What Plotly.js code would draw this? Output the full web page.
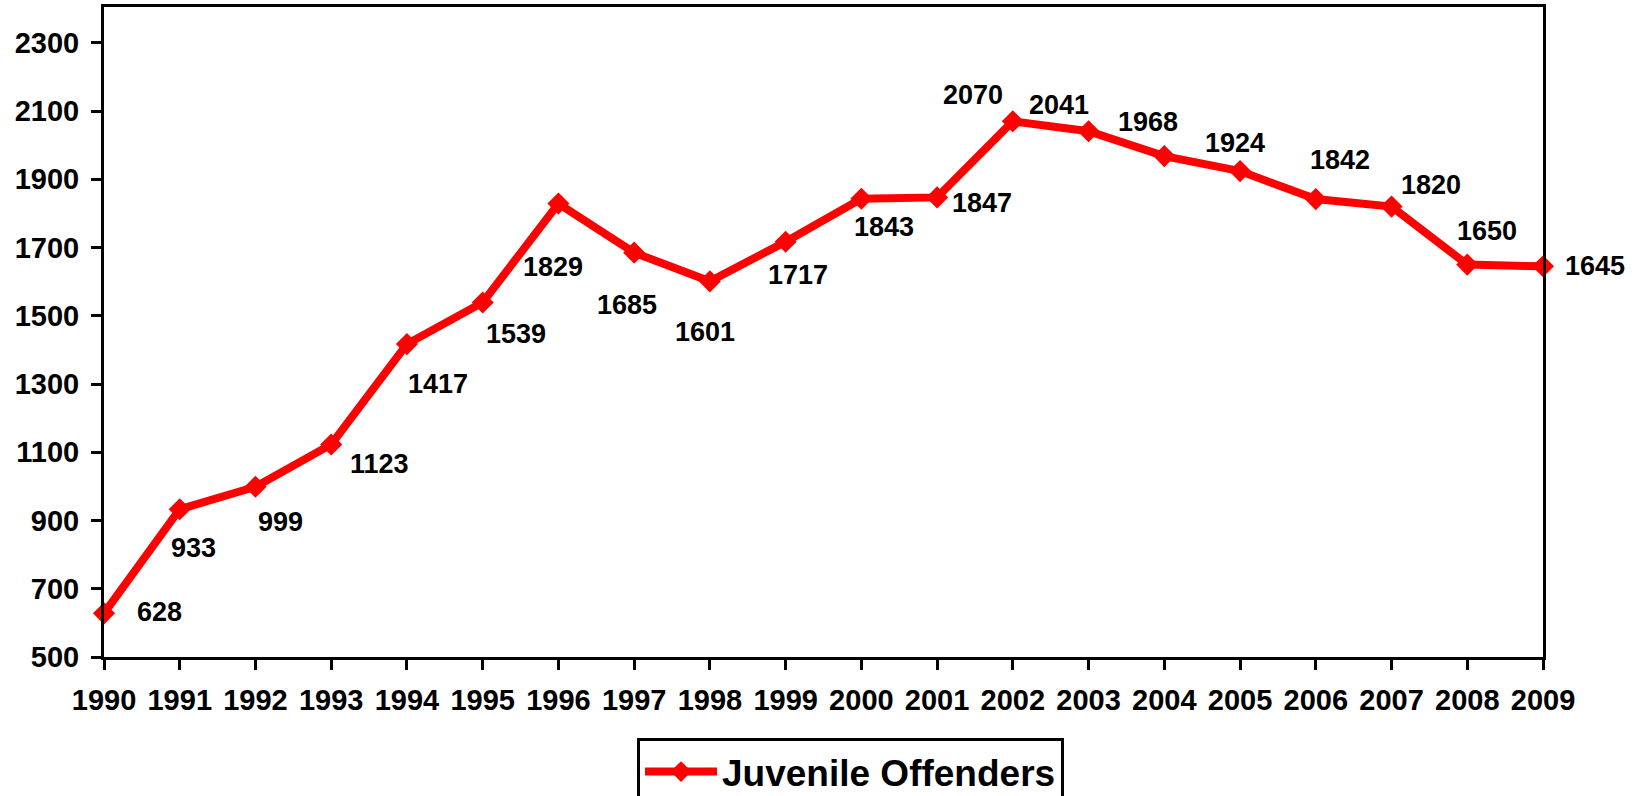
<!DOCTYPE html>
<html>
<head>
<meta charset="utf-8">
<script src="https://cdn.plot.ly/plotly-3.0.1.min.js"></script>
<style>html,body{margin:0;padding:0;background:#fff;}#chart{width:1637px;height:796px;}</style>
</head>
<body>
<div id="chart"></div>
<script>
const years = [1990,1991,1992,1993,1994,1995,1996,1997,1998,1999,2000,2001,2002,2003,2004,2005,2006,2007,2008,2009];
const offenders = [628,933,999,1123,1417,1539,1829,1685,1601,1717,1843,1847,2070,2041,1968,1924,1842,1820,1650,1645];
const seriesName = 'Juvenile Offenders';
const yTicks = [500,700,900,1100,1300,1500,1700,1900,2100,2300];

// label offsets in pixels (dx right, dy down) relative to each point
const labelDx = [55,14,25,48,31,33,-5,-7,-5,12,23,45,-40,-30,-16,-5,24,39,20,52];
const labelDy = [-1,39,35,20,40,32,63,52,51,33,28,6,-26,-26,-34,-28,-39,-22,-34,0];

const FONT = 'Liberation Sans, Arial, Helvetica, sans-serif';

const trace = {
  x: years, y: offenders, name: seriesName,
  type: 'scatter', mode: 'lines+markers',
  line: {color: '#FF0000', width: 8},
  marker: {symbol: 'diamond', size: 17, color: '#FF0000'},
  cliponaxis: false
};

const annotations = years.map((yr, i) => ({
  x: yr, y: offenders[i], xref: 'x', yref: 'y',
  text: String(offenders[i]), showarrow: false,
  xshift: labelDx[i], yshift: -labelDy[i],
  font: {family: FONT, size: 27, color: '#000', weight: 'bold'}
}));

const layout = {
  width: 1637, height: 796,
  margin: {l: 104, r: 94, t: 7, b: 139, autoexpand: false},
  paper_bgcolor: '#fff', plot_bgcolor: '#fff',
  showlegend: true,
  legend: {
    x: 0.3704, y: -0.1246, xanchor: 'left', yanchor: 'top',
    orientation: 'h',
    bordercolor: '#000', borderwidth: 3, bgcolor: '#fff',
    font: {family: FONT, size: 37, color: '#000', weight: 'bold'},
    itemwidth: 72
  },
  xaxis: {
    range: [1990, 2009], tickvals: years, ticktext: years.map(String),
    showgrid: false, zeroline: false, automargin: false,
    showline: true, linecolor: '#000', linewidth: 3, mirror: true,
    ticks: 'outside', ticklen: 10, tickwidth: 3, tickcolor: '#000',
    ticklabelstandoff: 5,
    tickfont: {family: FONT, size: 29, color: '#000', weight: 'bold'}
  },
  yaxis: {
    range: [500, 2405], tickvals: yTicks,
    showgrid: false, zeroline: false, automargin: false,
    showline: true, linecolor: '#000', linewidth: 3, mirror: true,
    ticks: 'outside', ticklen: 10, tickwidth: 3, tickcolor: '#000',
    ticklabelstandoff: 6,
    tickfont: {family: FONT, size: 29, color: '#000', weight: 'bold'}
  },
  annotations: annotations
};

Plotly.newPlot('chart', [trace], layout, {staticPlot: true, displayModeBar: false});
</script>
</body>
</html>
